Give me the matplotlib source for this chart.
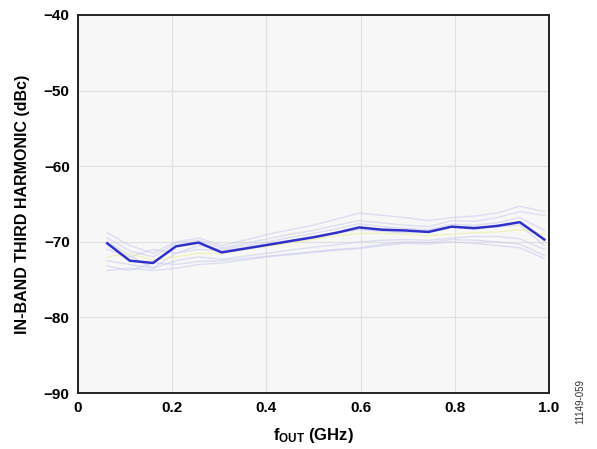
import matplotlib
matplotlib.use("Agg")
import matplotlib.pyplot as plt

plt.rcParams['font.family'] = ['Liberation Sans', 'DejaVu Sans']
plt.rcParams['mathtext.fontset'] = 'custom'
plt.rcParams['mathtext.rm'] = 'Liberation Sans:bold'
plt.rcParams['mathtext.bf'] = 'Liberation Sans:bold'
plt.rcParams['mathtext.it'] = 'Liberation Sans:bold'

# Data
freq_ghz = [0.062, 0.110, 0.159, 0.208, 0.256, 0.305, 0.354, 0.403, 0.451, 0.500,
            0.549, 0.597, 0.646, 0.695, 0.744, 0.793, 0.841, 0.890, 0.938, 0.990]
typical = [-70.2, -72.5, -72.8, -70.6, -70.1, -71.4, -70.9, -70.4, -69.9, -69.4,
           -68.8, -68.1, -68.4, -68.5, -68.7, -68.0, -68.2, -67.9, -67.4, -69.7]
dev1 = [-68.8, -70.5, -71.5, -70.0, -69.5, -70.5, -69.8, -69.0, -68.4, -67.8,
        -67.0, -66.2, -66.5, -66.8, -67.2, -66.8, -66.6, -66.2, -65.3, -66.0]
dev2 = [-69.5, -71.2, -72.0, -70.2, -69.8, -70.8, -70.2, -69.6, -69.0, -68.5,
        -67.8, -67.2, -67.5, -67.8, -68.0, -67.2, -67.3, -66.8, -66.0, -66.5]
dev3 = [-71.0, -72.0, -71.0, -71.5, -71.0, -71.2, -70.8, -70.3, -69.8, -69.3,
        -68.8, -68.4, -68.6, -68.8, -68.5, -68.0, -68.0, -68.0, -67.8, -70.5]
dev4 = [-72.0, -71.5, -72.5, -72.0, -71.5, -71.6, -71.0, -70.6, -70.1, -69.7,
        -69.2, -68.9, -68.9, -69.0, -69.2, -69.0, -68.8, -68.7, -68.4, -69.0]
dev5 = [-72.5, -73.0, -73.5, -72.5, -72.0, -72.3, -71.9, -71.5, -71.1, -70.7,
        -70.4, -70.0, -69.8, -69.7, -69.8, -69.5, -69.3, -69.3, -69.6, -71.0]
dev6 = [-73.2, -73.8, -72.8, -73.0, -72.6, -72.5, -72.2, -71.9, -71.6, -71.3,
        -71.0, -70.8, -70.3, -70.0, -70.1, -69.7, -69.8, -70.0, -70.3, -71.8]
dev7 = [-73.8, -73.5, -73.8, -73.5, -73.0, -72.8, -72.4, -72.0, -71.7, -71.4,
        -71.1, -70.9, -70.5, -70.2, -70.3, -70.0, -70.2, -70.5, -70.8, -72.2]
dev8 = [-70.0, -71.8, -73.5, -71.5, -70.5, -71.0, -70.5, -70.0, -69.4, -68.9,
        -68.3, -67.6, -68.0, -68.2, -68.4, -67.7, -67.8, -67.5, -66.8, -68.5]

x_ticks = [0, 0.2, 0.4, 0.6, 0.8, 1.0]
x_tick_labels = ['0', '0.2', '0.4', '0.6', '0.8', '1.0']
y_ticks = [-90, -80, -70, -60, -50, -40]
y_tick_labels = ['\u221290', '\u221280', '\u221270', '\u221260', '\u221250', '\u221240']

fig = plt.figure(figsize=(5.97, 4.49), dpi=100)
ax = fig.add_axes([0.1307, 0.1247, 0.7889, 0.8419])
ax.set_facecolor('#f7f7f8')

faint = [dev1, dev2, dev3, dev5, dev6, dev7, dev8]
for d in faint:
    ax.plot(freq_ghz, d, color='#c8c8ec', lw=1.0, alpha=0.55, zorder=2)
ax.plot(freq_ghz, dev4, color='#f0f0b0', lw=1.0, alpha=0.8, zorder=2)
ax.plot(freq_ghz, typical, color='#3030c8', lw=1.8, zorder=3)

ax.set_xlim(0, 1.0)
ax.set_ylim(-90, -40)
ax.set_xticks(x_ticks)
ax.set_xticklabels(x_tick_labels)
ax.set_yticks(y_ticks)
ax.set_yticklabels(y_tick_labels)
ax.tick_params(length=0, labelsize=11, pad=6)
for lbl in ax.get_xticklabels() + ax.get_yticklabels():
    lbl.set_fontweight('bold')
ax.grid(True, color='#e0e0e0', lw=0.8, zorder=1)
ax.set_axisbelow(True)
for s in ax.spines.values():
    s.set_linewidth(1.4)
    s.set_color('#222222')

ax.set_ylabel('IN-BAND THIRD HARMONIC (dBc)', fontsize=11.5, fontweight='bold', labelpad=10)
ax.set_xlabel(r'f$_{\mathrm{OUT}}$ (GHz)', fontsize=12, fontweight='bold', labelpad=8)

fig.text(0.972, 0.105, '11149-059', rotation=90, fontsize=7, ha='center', va='center', color='#333333')

fig.savefig('out.png', dpi=100)
